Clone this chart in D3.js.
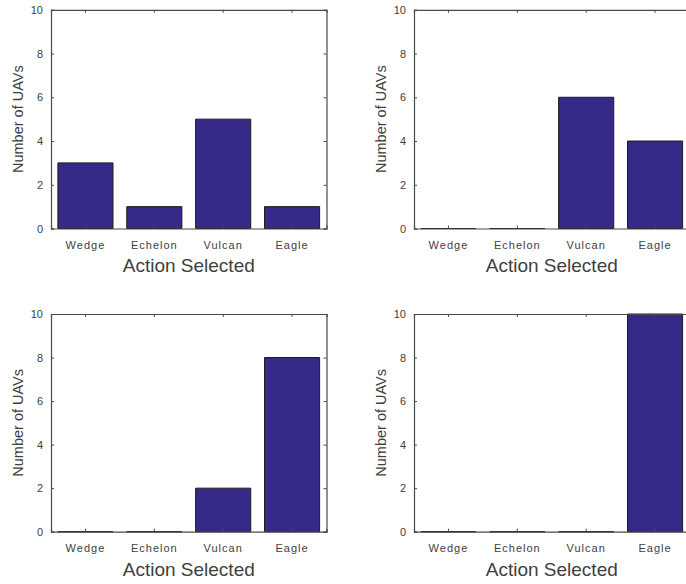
<!DOCTYPE html>
<html>
<head>
<meta charset="utf-8">
<script src="https://cdn.jsdelivr.net/npm/d3@7"></script>
<style>
  html, body { margin: 0; padding: 0; background: #fff; }
  svg { display: block; }
  text { font-family: "Liberation Sans", Arial, Helvetica, sans-serif; fill: #404040; }
</style>
</head>
<body>
<svg id="chart" width="686" height="584"></svg>
<script>
// Formation choices, one count per action, for four runs
const categories = ["Wedge", "Echelon", "Vulcan", "Eagle"];
const countsRun1 = [3, 1, 5, 1];
const countsRun2 = [0, 0, 6, 4];
const countsRun3 = [0, 0, 2, 8];
const countsRun4 = [0, 0, 0, 10];
const yTicks = [0, 2, 4, 6, 8, 10];
const xTitle = "Action Selected";
const yTitle = "Number of UAVs";

const svg = d3.select("#chart");
const barFill = "#352a87";
const axisColor = "#4a4a4a";

// Axes boxes: left, top, width, height
const panels = [
  { data: countsRun1, left: 51,  top: 9.8, width: 275.5, height: 218.7 },
  { data: countsRun2, left: 414, top: 9.8, width: 275.5, height: 218.7 },
  { data: countsRun3, left: 51,  top: 314, width: 275.5, height: 217.7 },
  { data: countsRun4, left: 414, top: 314, width: 275.5, height: 217.7 }
];

panels.forEach(p => {
  const g = svg.append("g").attr("transform", `translate(${p.left},${p.top})`);

  const x = d3.scaleBand()
    .domain(categories)
    .range([0, p.width])
    .paddingInner(0.2)
    .paddingOuter(0.1);
  const y = d3.scaleLinear().domain([0, 10]).range([p.height, 0]);

  // Bars (zero-height ones still show their outline along the baseline)
  g.selectAll("path.bar")
    .data(categories.map((c, i) => ({ c, v: p.data[i] })))
    .join("path")
    .attr("class", "bar")
    .attr("d", d => {
      const x0 = x(d.c), x1 = x(d.c) + x.bandwidth();
      const y0 = y(0), y1 = y(d.v);
      return `M${x0},${y0}V${y1}H${x1}V${y0}Z`;
    })
    .attr("fill", barFill)
    .attr("stroke", "#1c1c1c")
    .attr("stroke-width", 1);

  // Left axis with labels, inward ticks
  const yAxis = d3.axisLeft(y).tickValues(yTicks).tickSize(-3).tickPadding(8).tickFormat(d3.format("d"));
  const gy = g.append("g").call(yAxis);
  // Right axis, ticks only
  const gyr = g.append("g").attr("transform", `translate(${p.width},0)`)
    .call(d3.axisRight(y).tickValues(yTicks).tickSize(-3).tickFormat(""));
  // Bottom axis with category labels
  const gx = g.append("g").attr("transform", `translate(0,${p.height})`)
    .call(d3.axisBottom(x).tickSize(-3).tickPadding(13));
  // Top axis, ticks only
  const gxt = g.append("g")
    .call(d3.axisTop(x).tickSize(-3).tickFormat(""));

  [gy, gyr, gx, gxt].forEach(a => {
    a.select(".domain").attr("stroke", axisColor).attr("stroke-width", 1.2);
    a.selectAll(".tick line").attr("stroke", axisColor);
    a.selectAll("text").attr("fill", "#404040").style("font-size", "11px")
      .style("font-family", "'Liberation Sans', Arial, sans-serif");
  });
  gx.selectAll("text").style("letter-spacing", "1px");

  // Axis titles
  g.append("text")
    .attr("x", p.width / 2)
    .attr("y", p.height + 44)
    .attr("text-anchor", "middle")
    .style("font-size", "19px")
    .text(xTitle);

  g.append("text")
    .attr("transform", `translate(${-28},${p.height / 2}) rotate(-90)`)
    .attr("text-anchor", "middle")
    .style("font-size", "14.5px")
    .text(yTitle);
});
</script>
</body>
</html>
